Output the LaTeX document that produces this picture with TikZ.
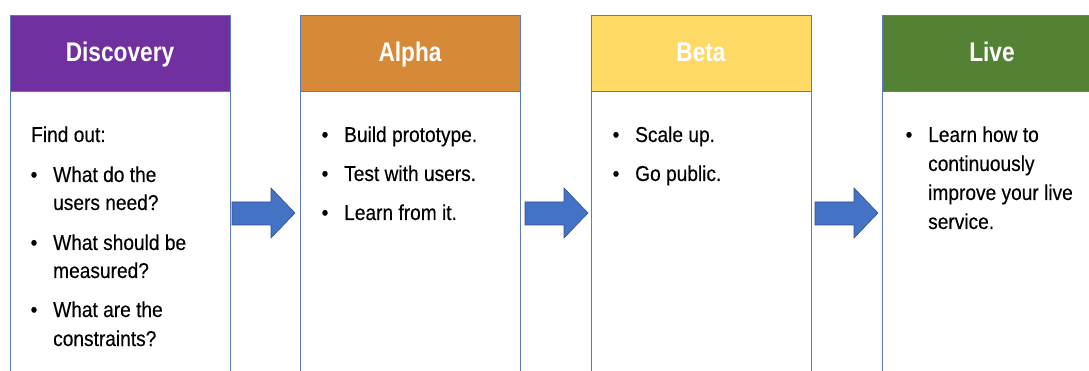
\documentclass[tikz,border=0pt]{standalone}
\usepackage{fontspec}
\setmainfont[FakeStretch=0.89,FakeBold=0.3]{Liberation Sans}
\newfontfamily\headfont[FakeStretch=0.84]{Liberation Sans}
\definecolor{cpurple}{HTML}{7030A0}
\definecolor{corange}{HTML}{D68936}
\definecolor{cyellow}{HTML}{FFD966}
\definecolor{cgreen}{HTML}{548235}
\definecolor{cborder}{HTML}{5B7BC0}
\definecolor{carrow}{HTML}{4472C4}
\definecolor{carrowline}{HTML}{2F528F}
\tikzset{
  x=1pt, y=-1pt,
  header/.style={draw=cborder, line width=1.2pt, minimum width=220pt, minimum height=76pt, inner sep=0pt, anchor=north west},
  bodybox/.style={draw=cborder, line width=1.2pt, minimum width=220pt, minimum height=380pt, inner sep=0pt, anchor=north west, fill=white},
  title/.style={text=white, font=\headfont\bfseries\fontsize{27}{27}\selectfont, anchor=base, inner sep=0pt},
  txt/.style={font=\fontsize{21.5}{21.5}\selectfont, anchor=base west, inner sep=0pt, text=black},
  blt/.style={font=\fontsize{21.5}{21.5}\selectfont, anchor=base, inner sep=0pt, text=black},
  blockarrow/.style={fill=carrow, draw=carrowline, line width=0.6pt, line join=miter}
}
\begin{document}
\begin{tikzpicture}
\useasboundingbox (0,0) rectangle (1089,371);
\clip (0,0) rectangle (1089,371);
% boxes
\node[bodybox] (db) at (10,15) {};
\node[header, fill=cpurple] (dh) at (10,15) {};
\node[bodybox] (ab) at (300,15) {};
\node[header, fill=corange] (ah) at (300,15) {};
\node[bodybox] (bb) at (591,15) {};
\node[header, fill=cyellow] (bh) at (591,15) {};
\node[bodybox] (lb) at (882,15) {};
\node[header, fill=cgreen] (lh) at (882,15) {};
% titles
\node[title] (dt) at (120,62) {Discovery};
\node[title] (at) at (410,62) {Alpha};
\node[title] (bt) at (701,62) {Beta};
\node[title] (lt) at (992,62) {Live};
% Discovery text
\node[txt] (d0) at (31,142) {Find out:};
\node[blt] (d1b) at (34,182) {\textbullet};
\node[txt] (d1) at (53,182) {What do the};
\node[txt] (d1c) at (53,210) {users need?};
\node[blt] (d2b) at (34,250) {\textbullet};
\node[txt] (d2) at (53,250) {What should be};
\node[txt] (d2c) at (53,278) {measured?};
\node[blt] (d3b) at (34,317) {\textbullet};
\node[txt] (d3) at (53,317) {What are the};
\node[txt] (d3c) at (53,346) {constraints?};
% Alpha text
\node[blt] (a1b) at (325,142) {\textbullet};
\node[txt] (a1) at (344,142) {Build prototype.};
\node[blt] (a2b) at (325,181) {\textbullet};
\node[txt] (a2) at (344,181) {Test with users.};
\node[blt] (a3b) at (325,220) {\textbullet};
\node[txt] (a3) at (344,220) {Learn from it.};
% Beta text
\node[blt] (b1b) at (616,142) {\textbullet};
\node[txt] (b1) at (635,142) {Scale up.};
\node[blt] (b2b) at (616,181) {\textbullet};
\node[txt] (b2) at (635,181) {Go public.};
% Live text
\node[blt] (l1b) at (909,142) {\textbullet};
\node[txt] (l1) at (928,142) {Learn how to};
\node[txt] (l2) at (928,171) {continuously};
\node[txt] (l3) at (928,200) {improve your live};
\node[txt] (l4) at (928,229) {service.};
% arrows
\foreach \x/\n in {232/a1, 525/a2, 815/a3}{
  \draw[blockarrow] (\x,202) -- (\x+39,202) -- (\x+39,188) -- (\x+63,213) -- (\x+39,238) -- (\x+39,225) -- (\x,225) -- cycle;
}
\end{tikzpicture}
\end{document}
